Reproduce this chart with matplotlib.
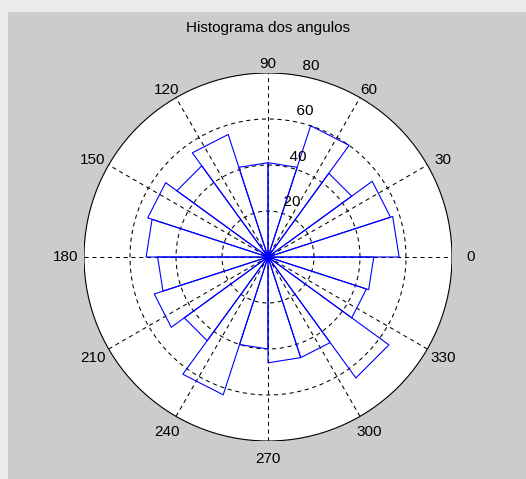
import numpy as np
import matplotlib
matplotlib.use("Agg")
import matplotlib.pyplot as plt
from matplotlib.patches import Circle
import matplotlib.transforms as mtransforms

plt.rcParams['font.family'] = ['Liberation Sans', 'DejaVu Sans']

# rose histogram, 20 bins of 18 degrees starting at 0
bin_start_deg = [0, 18, 36, 54, 72, 90, 108, 126, 144, 162,
                 180, 198, 216, 234, 252, 270, 288, 306, 324, 342]
counts = [57, 56, 45, 60, 41, 41, 56, 49, 55, 53,
          48, 52, 45, 63, 40, 46, 46, 65, 45, 46]
bin_width_deg = 18

rmax = 80
ring_values = [20, 40, 60, 80]
spoke_angles = [0, 30, 60, 90, 120, 150]
angle_labels = ['0', '30', '60', '90', '120', '150',
                '180', '210', '240', '270', '300', '330']
title = "Histograma dos angulos"

W, H = 526, 479
fig = plt.figure(figsize=(W / 100, H / 100), dpi=100)
fig.patch.set_facecolor('#ebebeb')

# grey figure panel
bg = fig.add_axes([8 / W, 0, (W - 8) / W, (H - 12) / H])
bg.set_facecolor('#cccccc')
bg.set_xticks([])
bg.set_yticks([])
for s in bg.spines.values():
    s.set_visible(False)

cx, cy, R = 268, 257, 184
ax = fig.add_axes([(cx - R) / W, (H - cy - R) / H, 2 * R / W, 2 * R / H])
ax.set_xlim(-rmax, rmax)
ax.set_ylim(-rmax, rmax)
ax.axis('off')

ax.add_patch(Circle((0, 0), rmax, facecolor='white', edgecolor='black',
                    lw=0.8, zorder=1))

grid_dash = (4, 3.5)
t = np.linspace(0, 2 * np.pi, 200)
for r in ring_values[:-1]:
    ax.plot(r * np.cos(t), r * np.sin(t), color='black', lw=0.75,
            dashes=grid_dash, zorder=2)
for a in spoke_angles:
    th = np.deg2rad(a)
    ax.plot([-rmax * np.cos(th), rmax * np.cos(th)],
            [-rmax * np.sin(th), rmax * np.sin(th)],
            color='black', lw=0.75, dashes=grid_dash, zorder=2)

# ring labels at 82 degrees
c82, s82 = np.cos(np.deg2rad(82)), np.sin(np.deg2rad(82))
for r in ring_values:
    ax.text((r + 1) * c82, (r + 1) * s82, '  ' + str(r), fontsize=11,
            ha='left', va='bottom', zorder=4, clip_on=False)

# angle labels
rt = 1.1 * rmax
for i, lab in enumerate(angle_labels):
    th = np.deg2rad(30 * i)
    off = mtransforms.offset_copy(ax.transData, fig=fig, x=0,
                                  y=-9 * max(np.sin(th), 0) * 0.72, units='points')
    ax.text(rt * np.cos(th), rt * np.sin(th), lab, fontsize=11,
            ha='center', va='center', transform=off, clip_on=False)

# rose wedges
for start, n in zip(bin_start_deg, counts):
    a1 = np.deg2rad(start)
    a2 = np.deg2rad(start + bin_width_deg)
    xs = [0, n * np.cos(a1), n * np.cos(a2), 0]
    ys = [0, n * np.sin(a1), n * np.sin(a2), 0]
    ax.plot(xs, ys, color='#0000ff', lw=0.8, zorder=3)

fig.text(cx / W, 1 - 28 / H, title, fontsize=11, ha='center', va='center')

fig.savefig('out.png', dpi=100, facecolor=fig.get_facecolor())
